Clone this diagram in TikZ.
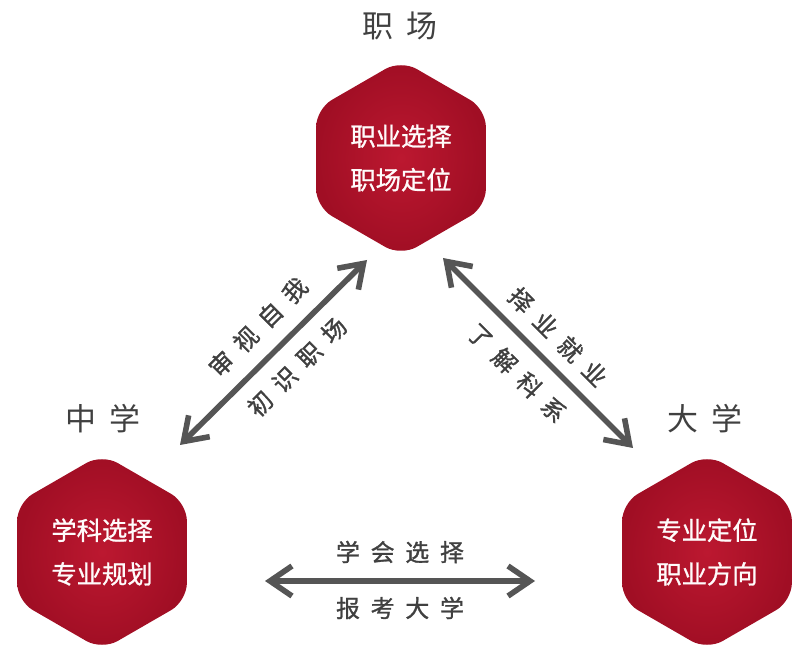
\documentclass[tikz,border=0pt]{standalone}
\usepackage{fontspec}
\usepackage{tikz}
\usetikzlibrary{arrows.meta,shapes.geometric}
\newfontfamily\cjk[FakeBold=1]{Noto Sans CJK SC}
\newfontfamily\cjkwide[LetterSpace=45]{Noto Sans CJK SC}
\newfontfamily\cjkwidebold[LetterSpace=45,FakeBold=1.2]{Noto Sans CJK SC}
\definecolor{hexred}{RGB}{188,24,48}
\definecolor{hexdark}{RGB}{160,14,36}
\definecolor{arrowgray}{RGB}{85,85,85}
\definecolor{labelgray}{RGB}{64,64,64}

\begin{document}
\begin{tikzpicture}[x=0.025cm,y=0.025cm,
    hexbox/.style={regular polygon, regular polygon sides=6, regular polygon rotate=30,
        minimum size=4.9cm, inner sep=0pt, rounded corners=0.45cm,
        inner color=hexred, outer color=hexdark,
        text=white!94!pink, align=center, font=\cjk\fontsize{18pt}{31pt}\selectfont},
    placelabel/.style={text=labelgray, font=\cjkwide\fontsize{22pt}{26pt}\selectfont},
    pathlabel/.style={text=labelgray, font=\cjkwidebold\fontsize{17pt}{20pt}\selectfont},
    twoway/.style={draw=arrowgray, line width=0.14cm,
        {Straight Barb[length=0.55cm,width=0.75cm]}-{Straight Barb[length=0.55cm,width=0.75cm]}}]
    \useasboundingbox (0,0) rectangle (800,664);

    % the three stages
    \node[hexbox] (job) at (401,506) {职业选择\\职场定位};
    \node[hexbox] (school) at (102,112) {学科选择\\专业规划};
    \node[hexbox] (college) at (707,112) {专业定位\\职业方向};

    \node[placelabel] (jobname) at (400,638) {职场};
    \node[placelabel] (schoolname) at (103,245) {中学};
    \node[placelabel] (collegename) at (705,245) {大学};

    % arrows between the stages
    \coordinate (sa) at (180,219);
    \coordinate (sb) at (367,404);
    \coordinate (ca) at (443,406);
    \coordinate (cb) at (633,216);
    \coordinate (ha) at (265,83);
    \coordinate (hb) at (535,83);
    \draw[twoway] (sa) -- (sb);
    \draw[twoway] (ca) -- (cb);
    \draw[twoway] (ha) -- (hb);

    \node[pathlabel, rotate=45] (sself) at (258,337) {审视自我};
    \node[pathlabel, rotate=45] (sknow) at (297,297) {初识职场};
    \node[pathlabel, rotate=-45] (cpick) at (558,327) {择业就业};
    \node[pathlabel, rotate=-45] (cknow) at (517,291) {了解科系};
    \node[pathlabel] (hlearn) at (400,112) {学会选择};
    \node[pathlabel] (hexam) at (400,56) {报考大学};
\end{tikzpicture}
\end{document}
